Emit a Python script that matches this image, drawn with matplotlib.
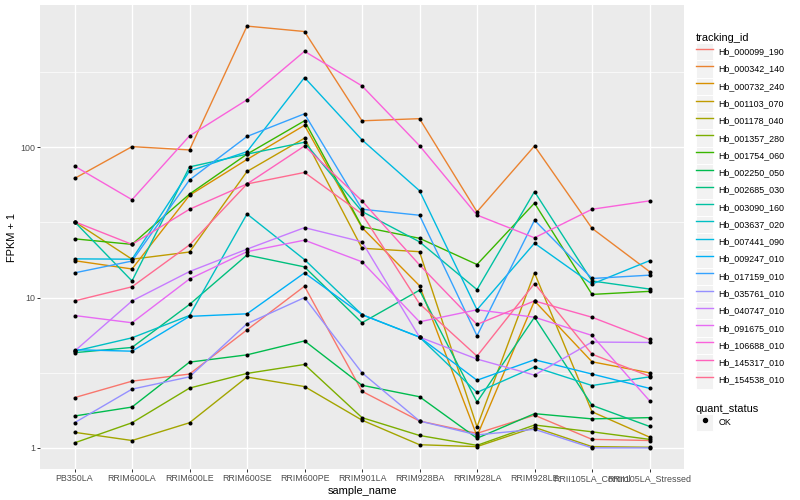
import numpy as np
import matplotlib
matplotlib.use("Agg")
import matplotlib.pyplot as plt
from matplotlib.lines import Line2D
from matplotlib.patches import Rectangle
from matplotlib.legend_handler import HandlerLine2D
from matplotlib.ticker import FixedLocator, NullFormatter

plt.rcParams['font.family'] = ['Liberation Sans', 'DejaVu Sans']

samples = ["PB350LA", "RRIM600LA", "RRIM600LE", "RRIM600SE", "RRIM600PE",
           "RRIM901LA", "RRIM928BA", "RRIM928LA", "RRIM928LE",
           "RRII105LA_Control", "RRII105LA_Stressed"]

tracking_ids = ["Hb_000099_190", "Hb_000342_140", "Hb_000732_240", "Hb_001103_070",
                "Hb_001178_040", "Hb_001357_280", "Hb_001754_060", "Hb_002250_050",
                "Hb_002685_030", "Hb_003090_160", "Hb_003637_020", "Hb_007441_090",
                "Hb_009247_010", "Hb_017159_010", "Hb_035761_010", "Hb_040747_010",
                "Hb_091675_010", "Hb_106688_010", "Hb_145317_010", "Hb_154538_010"]

# FPKM + 1, one list per tracking_id, in sample order
hb_000099_190 = [2.16, 2.78, 3.1, 6.1, 11.9, 2.38, 1.51, 1.25, 1.65, 1.14, 1.12]
hb_000342_140 = [62, 101, 96, 640, 589, 150, 155, 37.2, 102, 28.9, 14.9]
hb_000732_240 = [17.6, 15.5, 47.9, 83, 140, 29.2, 12.0, 1.2, 9.5, 3.74, 3.16]
hb_001103_070 = [32, 18, 20.1, 69, 115, 21.3, 20.2, 1.38, 14.6, 1.74, 1.18]
hb_001178_040 = [1.27, 1.12, 1.47, 2.96, 2.56, 1.53, 1.05, 1.02, 1.37, 1.02, 1.01]
hb_001357_280 = [1.08, 1.47, 2.5, 3.13, 3.59, 1.59, 1.21, 1.04, 1.42, 1.28, 1.14]
hb_001754_060 = [24.6, 22.6, 48.8, 90, 150, 29.6, 24.8, 16.6, 42.5, 10.5, 11.0]
hb_002250_050 = [1.63, 1.87, 3.72, 4.16, 5.15, 2.61, 2.19, 1.16, 1.69, 1.56, 1.59]
hb_002685_030 = [4.3, 4.66, 9.0, 19.2, 16, 6.8, 11.2, 2.02, 7.4, 1.92, 1.39]
hb_003090_160 = [32, 12.9, 74, 90, 108, 37.4, 23.5, 11.3, 50.7, 12.9, 11.4]
hb_003637_020 = [4.4, 5.4, 7.6, 36, 17.9, 7.7, 5.46, 2.34, 3.45, 2.6, 2.97]
hb_007441_090 = [18.1, 18, 69.5, 93.5, 291, 112, 51.4, 8.3, 23, 12.3, 17.6]
hb_009247_010 = [4.5, 4.4, 7.5, 7.8, 14.6, 7.7, 5.46, 2.82, 3.86, 3.1, 2.49]
hb_017159_010 = [14.6, 17.5, 60.6, 118, 167, 38.7, 35.3, 5.57, 32.7, 13.4, 14.1]
hb_035761_010 = [1.47, 2.46, 2.97, 6.7, 10, 3.16, 1.51, 1.22, 1.33, 1.0, 1.0]
hb_040747_010 = [4.4, 9.5, 14.9, 21, 29.2, 23.5, 5.46, 3.9, 3.05, 5.06, 5.03]
hb_091675_010 = [7.6, 6.8, 13.3, 20.2, 24.1, 17.3, 6.9, 8.3, 7.4, 5.6, 2.06]
hb_106688_010 = [75, 44.8, 119, 207, 435, 256, 102.5, 35.4, 25, 38.7, 44]
hb_145317_010 = [32, 22.6, 38.7, 57, 102, 44, 16.5, 6.63, 9.5, 7.4, 5.27]
hb_154538_010 = [9.5, 11.8, 22.4, 57, 68, 36, 9.1, 4.08, 12.4, 4.2, 3.0]

series = [hb_000099_190, hb_000342_140, hb_000732_240, hb_001103_070, hb_001178_040,
          hb_001357_280, hb_001754_060, hb_002250_050, hb_002685_030, hb_003090_160,
          hb_003637_020, hb_007441_090, hb_009247_010, hb_017159_010, hb_035761_010,
          hb_040747_010, hb_091675_010, hb_106688_010, hb_145317_010, hb_154538_010]

# ggplot2 default hue palette for 20 levels
colors = ["#F8766D", "#EA8331", "#D89000", "#C09B00", "#A3A500", "#7CAE00", "#39B600",
          "#00BB4E", "#00BF7D", "#00C1A3", "#00BFC4", "#00BAE0", "#00B0F6", "#35A2FF",
          "#9590FF", "#C77CFF", "#E76BF3", "#FA62DB", "#FF62BC", "#FF6C91"]


class KeyHandler(HandlerLine2D):
    # legend key with the grey ggplot box behind it
    def create_artists(self, legend, orig_handle, xdescent, ydescent,
                       width, height, fontsize, trans):
        bg = Rectangle((-xdescent, -ydescent), width, height, facecolor="#F2F2F2",
                       edgecolor="white", linewidth=0.7, transform=trans)
        arts = super().create_artists(legend, orig_handle, xdescent, ydescent,
                                      width, height, fontsize, trans)
        return [bg] + list(arts)


fig = plt.figure(figsize=(8, 5), dpi=100)
ax = fig.add_axes([40 / 800, 1 - 469 / 500, 644 / 800, 464 / 500])
ax.set_facecolor("#EBEBEB")
for s in ax.spines.values():
    s.set_visible(False)

handles = []
for vals, col, name in zip(series, colors, tracking_ids):
    ln, = ax.plot(samples, vals, color=col, lw=1.0, zorder=2)
    handles.append(ln)
for vals in series:
    ax.scatter(samples, vals, s=8.5, color="black", linewidths=0, zorder=3)

ax.set_yscale("log")
allv = np.log10(np.concatenate([np.array(v, float) for v in series]))
lo, hi = allv.min(), allv.max()
pad = 0.05 * (hi - lo)
ax.set_ylim(10 ** (lo - pad), 10 ** (hi + pad))
ax.set_xlim(-0.6, len(samples) - 0.4)

ax.yaxis.set_major_locator(FixedLocator([1, 10, 100]))
ax.set_yticklabels(["1", "10", "100"])
ax.yaxis.set_minor_locator(FixedLocator([10 ** 0.5, 10 ** 1.5, 10 ** 2.5]))
ax.yaxis.set_minor_formatter(NullFormatter())

ax.grid(which="major", color="white", lw=1.0, zorder=0)
ax.grid(which="minor", axis="y", color="white", lw=0.5, zorder=0)
ax.set_axisbelow(True)

ax.tick_params(axis="both", which="major", length=2.0, width=0.7, color="#333333",
               labelsize=6.4, labelcolor="#4D4D4D", pad=1.6)
ax.tick_params(axis="y", which="minor", length=0)

ax.set_xlabel("sample_name", fontsize=7.9, labelpad=2)
ax.set_ylabel("FPKM + 1", fontsize=7.9, labelpad=2)

fs = 6.4
# legend row height = fs * (0.65 * handleheight + 0.245); aim for 17.28 px keys
key_h = (17.28 * 0.72 / fs - 0.245) / 0.65
key_w = 17.28 * 0.72 / fs
leg_kw = dict(loc="upper left", frameon=False, fontsize=fs, title_fontsize=7.9,
              handlelength=key_w, handleheight=key_h, labelspacing=0,
              handletextpad=0.55, borderpad=0, borderaxespad=0,
              alignment="left", handler_map={Line2D: KeyHandler()})

fig.legend(handles, tracking_ids, bbox_to_anchor=(696 / 800, 1 - 33 / 500),
           title="tracking_id", **leg_kw)

ok = Line2D([], [], marker="o", color="black", linestyle="none", markersize=2.9)
fig.legend([ok], ["OK"], bbox_to_anchor=(696 / 800, 1 - 404 / 500),
           title="quant_status", **leg_kw)

fig.savefig("out.png", dpi=100)
